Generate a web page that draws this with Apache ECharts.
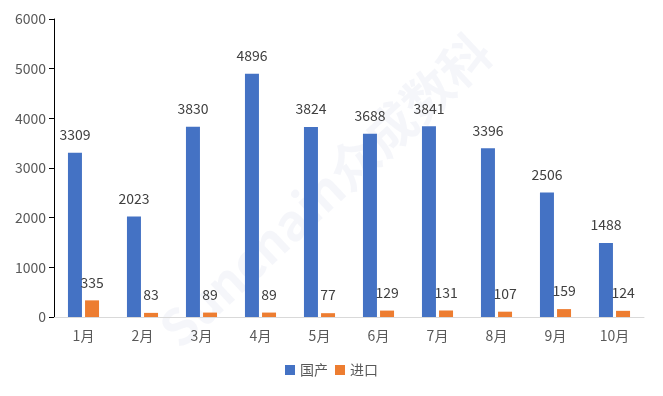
<!DOCTYPE html>
<html>
<head>
<meta charset="utf-8">
<script src="https://cdn.jsdelivr.net/npm/echarts@6/dist/echarts.min.js"></script>
<style>html,body{margin:0;padding:0;background:#fff}#c{width:663px;height:396px}</style>
</head>
<body>
<div id="c"></div>
<script>
const categories = ['1月','2月','3月','4月','5月','6月','7月','8月','9月','10月'];
const domestic = [3309, 2023, 3830, 4896, 3824, 3688, 3841, 3396, 2506, 1488];
const imported = [335, 83, 89, 89, 77, 129, 131, 107, 159, 124];
const yTicks = {min: 0, max: 6000, interval: 1000};

const FONT = '"Noto Sans CJK SC", "Liberation Sans", sans-serif';
const chart = echarts.init(document.getElementById('c'));
const labelStyle = {show: true, position: 'top', distance: 11, color: '#404040', fontSize: 14, fontFamily: FONT};
chart.setOption({
  animation: false,
  textStyle: {fontFamily: FONT},
  grid: {left: 54, right: 19, top: 19, bottom: 79},
  graphic: [{
    type: 'text', x: 325, y: 190, rotation: 43 * Math.PI / 180,
    style: {text: 'Sunchain众成数科', fontSize: 50, fontWeight: 'bold', fontFamily: FONT,
      align: 'center', verticalAlign: 'middle', fill: 'rgba(190,198,222,0.16)'},
    z: 0, silent: true
  }],
  legend: {
    bottom: 14, left: 'center', itemWidth: 10, itemHeight: 10, itemGap: 7,
    icon: 'rect',
    textStyle: {color: '#595959', fontSize: 14, fontFamily: FONT},
    data: ['国产', '进口']
  },
  xAxis: {
    type: 'category', data: categories,
    axisLine: {lineStyle: {color: '#d9d9d9'}},
    axisTick: {show: false},
    axisLabel: {color: '#595959', fontSize: 14, margin: 12, fontFamily: FONT}
  },
  yAxis: {
    type: 'value', min: yTicks.min, max: yTicks.max, interval: yTicks.interval,
    axisLine: {show: true, lineStyle: {color: '#000'}},
    axisTick: {show: true, length: 5, lineStyle: {color: '#000'}},
    splitLine: {show: false},
    axisLabel: {color: '#595959', fontSize: 14, margin: 8, fontFamily: FONT, formatter: v => String(v)}
  },
  series: [
    {name: '国产', type: 'bar', data: domestic, barWidth: 14, barGap: '22%', itemStyle: {color: '#4472C4'}, label: labelStyle},
    {name: '进口', type: 'bar', data: imported, barWidth: 14, itemStyle: {color: '#ED7D31'}, label: labelStyle}
  ]
});
</script>
</body>
</html>
